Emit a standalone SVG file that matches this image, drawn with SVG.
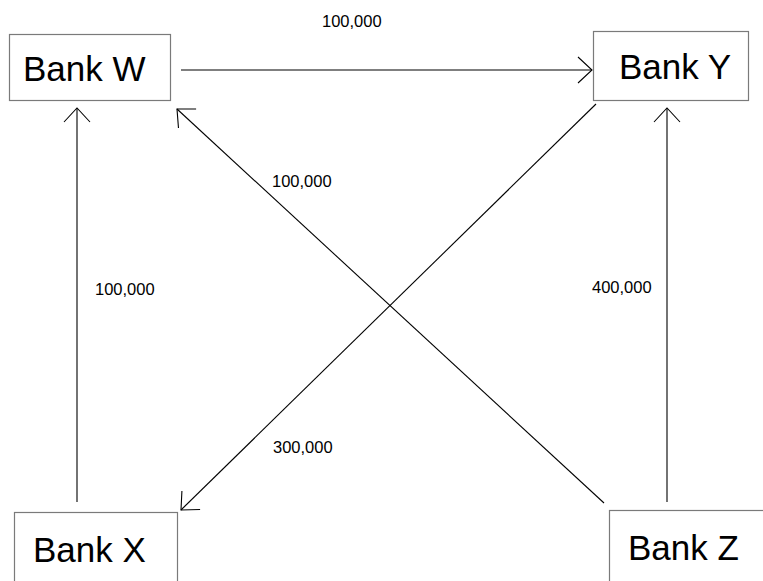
<svg xmlns="http://www.w3.org/2000/svg" width="763" height="581" viewBox="0 0 763 581">
  <style>
    .box { fill: #ffffff; stroke: #7a7a7a; stroke-width: 1.2; }
    .name { font-family: "Liberation Sans", Arial, sans-serif; font-size: 35px; fill: #000; }
    .amt { font-family: "Liberation Sans", Arial, sans-serif; font-size: 16.5px; fill: #000; }
    .link { stroke: #000; stroke-width: 1.1; fill: none; marker-end: url(#open); }
  </style>
  <defs>
    <marker id="open" markerUnits="userSpaceOnUse" markerWidth="40" markerHeight="40" refX="0" refY="0" viewBox="-20 -20 40 40" orient="auto" overflow="visible">
      <path d="M-14,-13 L0,0 L-14,13" fill="none" stroke="#000" stroke-width="1.1"/>
    </marker>
  </defs>
  <rect width="763" height="581" fill="#ffffff"/>

  <g id="bank-w">
    <rect class="box" x="9.5" y="34.5" width="161" height="66"/>
    <text class="name" x="23" y="81">Bank W</text>
  </g>
  <g id="bank-y">
    <rect class="box" x="593.5" y="31.5" width="155" height="69"/>
    <text class="name" x="619" y="79">Bank Y</text>
  </g>
  <g id="bank-x">
    <rect class="box" x="14.5" y="512.5" width="163" height="80"/>
    <text class="name" x="33" y="562">Bank X</text>
  </g>
  <g id="bank-z">
    <rect class="box" x="609.5" y="510.5" width="170" height="80"/>
    <text class="name" x="628" y="560">Bank Z</text>
  </g>

  <g id="connectors">
    <line class="link" x1="181" y1="70" x2="592" y2="70"/>
    <line class="link" x1="77" y1="502" x2="77" y2="108"/>
    <line class="link" x1="667" y1="502" x2="667" y2="108"/>
    <line class="link" x1="604" y1="503" x2="177" y2="109"/>
    <line class="link" x1="596" y1="104" x2="181" y2="510"/>
  </g>

  <g id="amounts">
    <text class="amt" x="322" y="27">100,000</text>
    <text class="amt" x="272" y="187">100,000</text>
    <text class="amt" x="95" y="295">100,000</text>
    <text class="amt" x="592" y="293">400,000</text>
    <text class="amt" x="273" y="453">300,000</text>
  </g>
</svg>
